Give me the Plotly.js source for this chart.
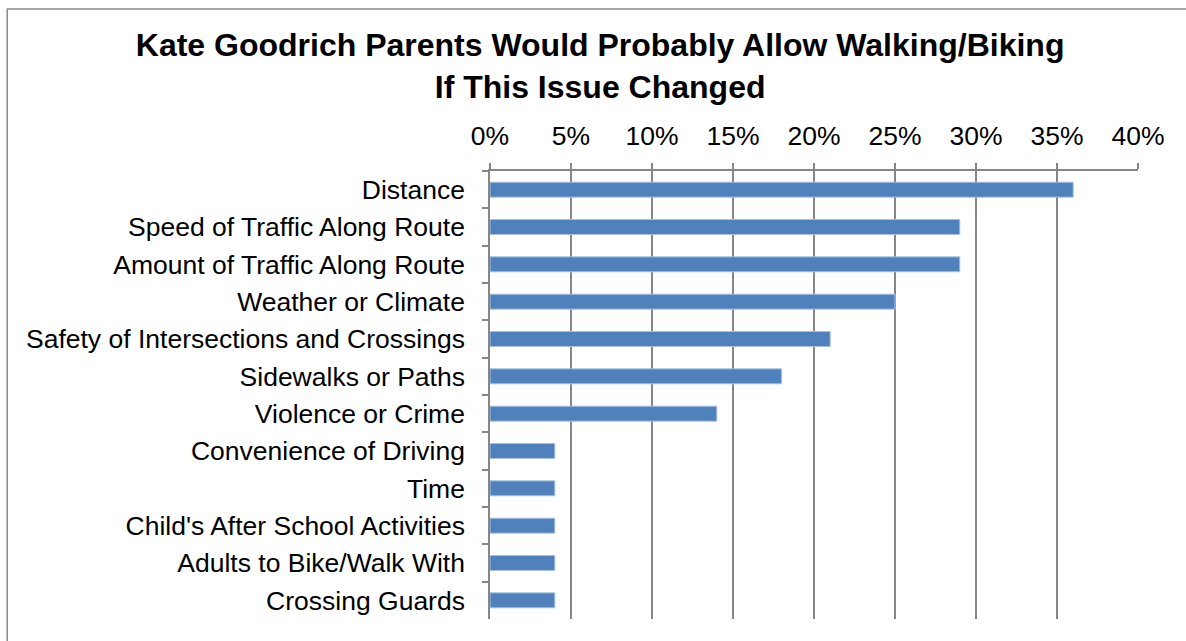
<!DOCTYPE html>
<html>
<head>
<meta charset="utf-8">
<script src="https://cdn.plot.ly/plotly-3.0.1.min.js"></script>
<style>
html,body{margin:0;padding:0;background:#fff;}
#chart{width:1186px;height:641px;}
</style>
</head>
<body>
<div id="chart"></div>
<script>
const categories = [
  "Distance",
  "Speed of Traffic Along Route",
  "Amount of Traffic Along Route",
  "Weather or Climate",
  "Safety of Intersections and Crossings",
  "Sidewalks or Paths",
  "Violence or Crime",
  "Convenience of Driving",
  "Time",
  "Child's After School Activities",
  "Adults to Bike/Walk With",
  "Crossing Guards"
];
const values = [0.36, 0.29, 0.29, 0.25, 0.21, 0.18, 0.14, 0.04, 0.04, 0.04, 0.04, 0.04];
const titleText = "Kate Goodrich Parents Would Probably Allow Walking/Biking<br>If This Issue Changed";

const gridColor = "#868686";
const font = "Liberation Sans, Arial, sans-serif";

const data = [{
  type: "bar",
  orientation: "h",
  x: values,
  y: categories,
  width: 0.4,
  marker: {color: "#4F81BD", line: {color: "#A9C1DF", width: 1}},
  hoverinfo: "x+y"
}];

const layout = {
  width: 1186,
  height: 641,
  paper_bgcolor: "#fff",
  plot_bgcolor: "#fff",
  margin: {l: 490, r: 48, t: 171, b: 22},
  showlegend: false,
  title: {
    text: titleText,
    font: {family: font, size: 32, color: "#000", weight: "bold"},
    x: 0.506, xanchor: "center",
    yref: "container",
    y: 0.912, yanchor: "middle"
  },
  xaxis: {
    side: "top",
    range: [0, 0.4],
    dtick: 0.05,
    tick0: 0,
    tickformat: ".0%",
    showgrid: true,
    gridcolor: gridColor,
    gridwidth: 1.5,
    showline: true,
    linecolor: gridColor,
    linewidth: 1.5,
    ticks: "outside",
    ticklen: 6,
    tickcolor: gridColor,
    tickwidth: 1.5,
    ticklabelstandoff: 8,
    zeroline: false,
    tickfont: {family: font, size: 26.5, color: "#000"},
    fixedrange: true
  },
  yaxis: {
    type: "category",
    autorange: "reversed",
    showgrid: false,
    showline: true,
    linecolor: gridColor,
    linewidth: 1.5,
    ticks: "outside",
    tickson: "boundaries",
    ticklen: 6,
    tickcolor: gridColor,
    tickwidth: 1.5,
    ticklabelstandoff: 18,
    tickfont: {family: font, size: 26.5, color: "#000"},
    fixedrange: true
  },
  shapes: [{
    type: "rect",
    xref: "paper", yref: "paper",
    x0: -0.745, x1: 1.2,
    y0: -0.2, y1: 1.3616,
    line: {color: "#8c8c8c", width: 1.5},
    fillcolor: "rgba(0,0,0,0)",
    layer: "below"
  }]
};

Plotly.newPlot("chart", data, layout, {displayModeBar: false, staticPlot: false});
</script>
</body>
</html>
